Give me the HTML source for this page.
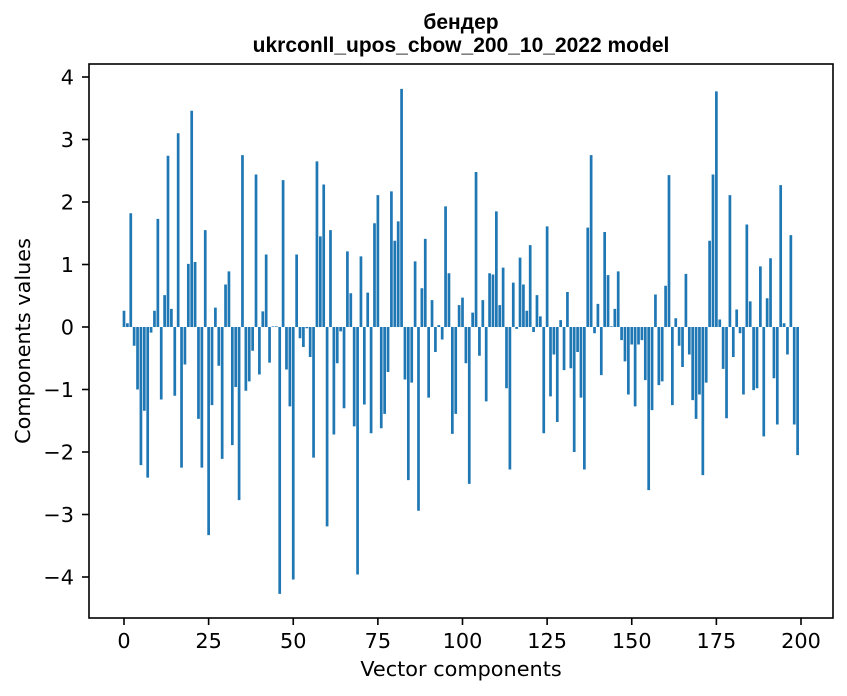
<!DOCTYPE html>
<html><head><meta charset="utf-8"><style>
body{margin:0;background:#fff;}
svg{display:block;font-family:"DejaVu Sans","Liberation Sans",sans-serif;}
</style></head><body>
<svg id="chart" width="847" height="696" xmlns="http://www.w3.org/2000/svg">
<rect width="847" height="696" fill="#fff"/>
<text x="461" y="29" text-anchor="middle" font-size="21" font-weight="bold" font-family="Liberation Sans, sans-serif">бендер</text>
<text x="461" y="52" text-anchor="middle" font-size="21" font-weight="bold" font-family="Liberation Sans, sans-serif">ukrconll_upos_cbow_200_10_2022 model</text>
<g id="bars"></g>
<g id="axes"></g>
<rect x="89" y="64" width="744" height="554" fill="none" stroke="#000" stroke-width="1.6"/>
<text x="461" y="676" text-anchor="middle" font-size="20.8">Vector components</text>
<text transform="translate(30,341) rotate(-90)" text-anchor="middle" font-size="20.8">Components values</text>
</svg>
<script>
const values = [0.26,0.06,1.82,-0.30,-1.0,-2.21,-1.34,-2.41,-0.09,0.26,
1.73,-1.16,0.51,2.74,0.29,-1.10,3.10,-2.25,-0.60,1.01,
3.46,1.04,-1.47,-2.25,1.55,-3.33,-1.25,0.31,-0.62,-2.11,
0.68,0.89,-1.89,-0.96,-2.77,2.75,-1.02,-0.87,-0.38,2.44,
-0.76,0.25,1.16,-0.57,0.01,0.01,-4.27,2.35,-0.68,-1.27,
-4.04,1.16,-0.18,-0.32,-0.02,-0.48,-2.09,2.65,1.45,2.28,
-3.19,1.55,-1.72,-0.58,-0.07,-1.30,1.21,0.54,-1.59,-3.96,
1.13,-1.24,0.55,-1.70,1.66,2.11,-1.62,-1.39,-0.72,2.17,
1.38,1.69,3.81,-0.84,-2.45,-0.89,1.05,-2.94,0.62,1.41,
-1.13,0.43,-0.40,0.03,-0.20,1.93,0.86,-1.71,-1.39,0.35,
0.47,-0.58,-2.51,0.23,2.48,-0.46,0.43,-1.19,0.86,0.84,
1.85,0.35,0.95,-0.98,-2.28,0.71,-0.03,1.11,0.68,0.26,
1.31,-0.08,0.51,0.17,-1.70,1.61,-1.11,-0.44,-1.52,0.11,
-0.69,0.56,-0.66,-2.0,-0.40,-1.13,-2.28,1.59,2.75,-0.10,
0.37,-0.77,1.52,0.83,0.01,0.29,0.89,-0.21,-0.55,-1.08,
-0.28,-1.27,-0.28,-0.21,-0.85,-2.61,-1.33,0.52,-0.93,-0.87,
0.66,2.43,-1.25,0.14,-0.30,-0.64,0.85,-0.44,-1.17,-1.47,
-1.08,-2.37,-0.89,1.38,2.44,3.77,0.12,-0.67,-1.46,2.11,
-0.48,0.28,-0.10,-1.08,1.64,0.41,-1.01,-0.98,0.97,-1.75,
0.46,1.10,-0.82,-1.56,2.27,0.06,-0.44,1.47,-1.56,-2.05];
const xTicks = [0,25,50,75,100,125,150,175,200];
const yTicks = [-4,-3,-2,-1,0,1,2,3,4];
const yTickLabels = ["\u22124","\u22123","\u22122","\u22121","0","1","2","3","4"];

const NS = "http://www.w3.org/2000/svg";
function xs(v){ return 124 + v*3.385; }
function ys(v){ return 327 - v*62.5; }
const bars = document.getElementById('bars');
values.forEach((v,i)=>{
  const r = document.createElementNS(NS,'rect');
  const y0 = ys(Math.max(v,0)), y1 = ys(Math.min(v,0));
  r.setAttribute('x', xs(i-0.4));
  r.setAttribute('y', y0);
  r.setAttribute('width', xs(0.8)-xs(0));
  r.setAttribute('height', Math.max(y1-y0,0.3));
  r.setAttribute('fill','#1f77b4');
  
  
  bars.appendChild(r);
});
const axes = document.getElementById('axes');
xTicks.forEach(t=>{
  const l = document.createElementNS(NS,'line');
  l.setAttribute('x1',xs(t)); l.setAttribute('x2',xs(t));
  l.setAttribute('y1',618); l.setAttribute('y2',625);
  l.setAttribute('stroke','#000');
  l.setAttribute('stroke-width','1.6');
  
  
  axes.appendChild(l);
  const tx = document.createElementNS(NS,'text');
  tx.setAttribute('x',xs(t)); tx.setAttribute('y',648);
  tx.setAttribute('text-anchor','middle'); tx.setAttribute('font-size','20.8');
  tx.textContent = t;
  
  
  axes.appendChild(tx);
});
yTicks.forEach((t,i)=>{
  const l = document.createElementNS(NS,'line');
  l.setAttribute('x1',82); l.setAttribute('x2',89);
  l.setAttribute('y1',ys(t)); l.setAttribute('y2',ys(t));
  l.setAttribute('stroke','#000');
  l.setAttribute('stroke-width','1.6');
  
  
  axes.appendChild(l);
  const tx = document.createElementNS(NS,'text');
  tx.setAttribute('x',74); tx.setAttribute('y',ys(t)+7.5);
  tx.setAttribute('text-anchor','end'); tx.setAttribute('font-size','20.8');
  tx.textContent = yTickLabels[i];
  
  
  axes.appendChild(tx);
});
</script>
</body></html>
